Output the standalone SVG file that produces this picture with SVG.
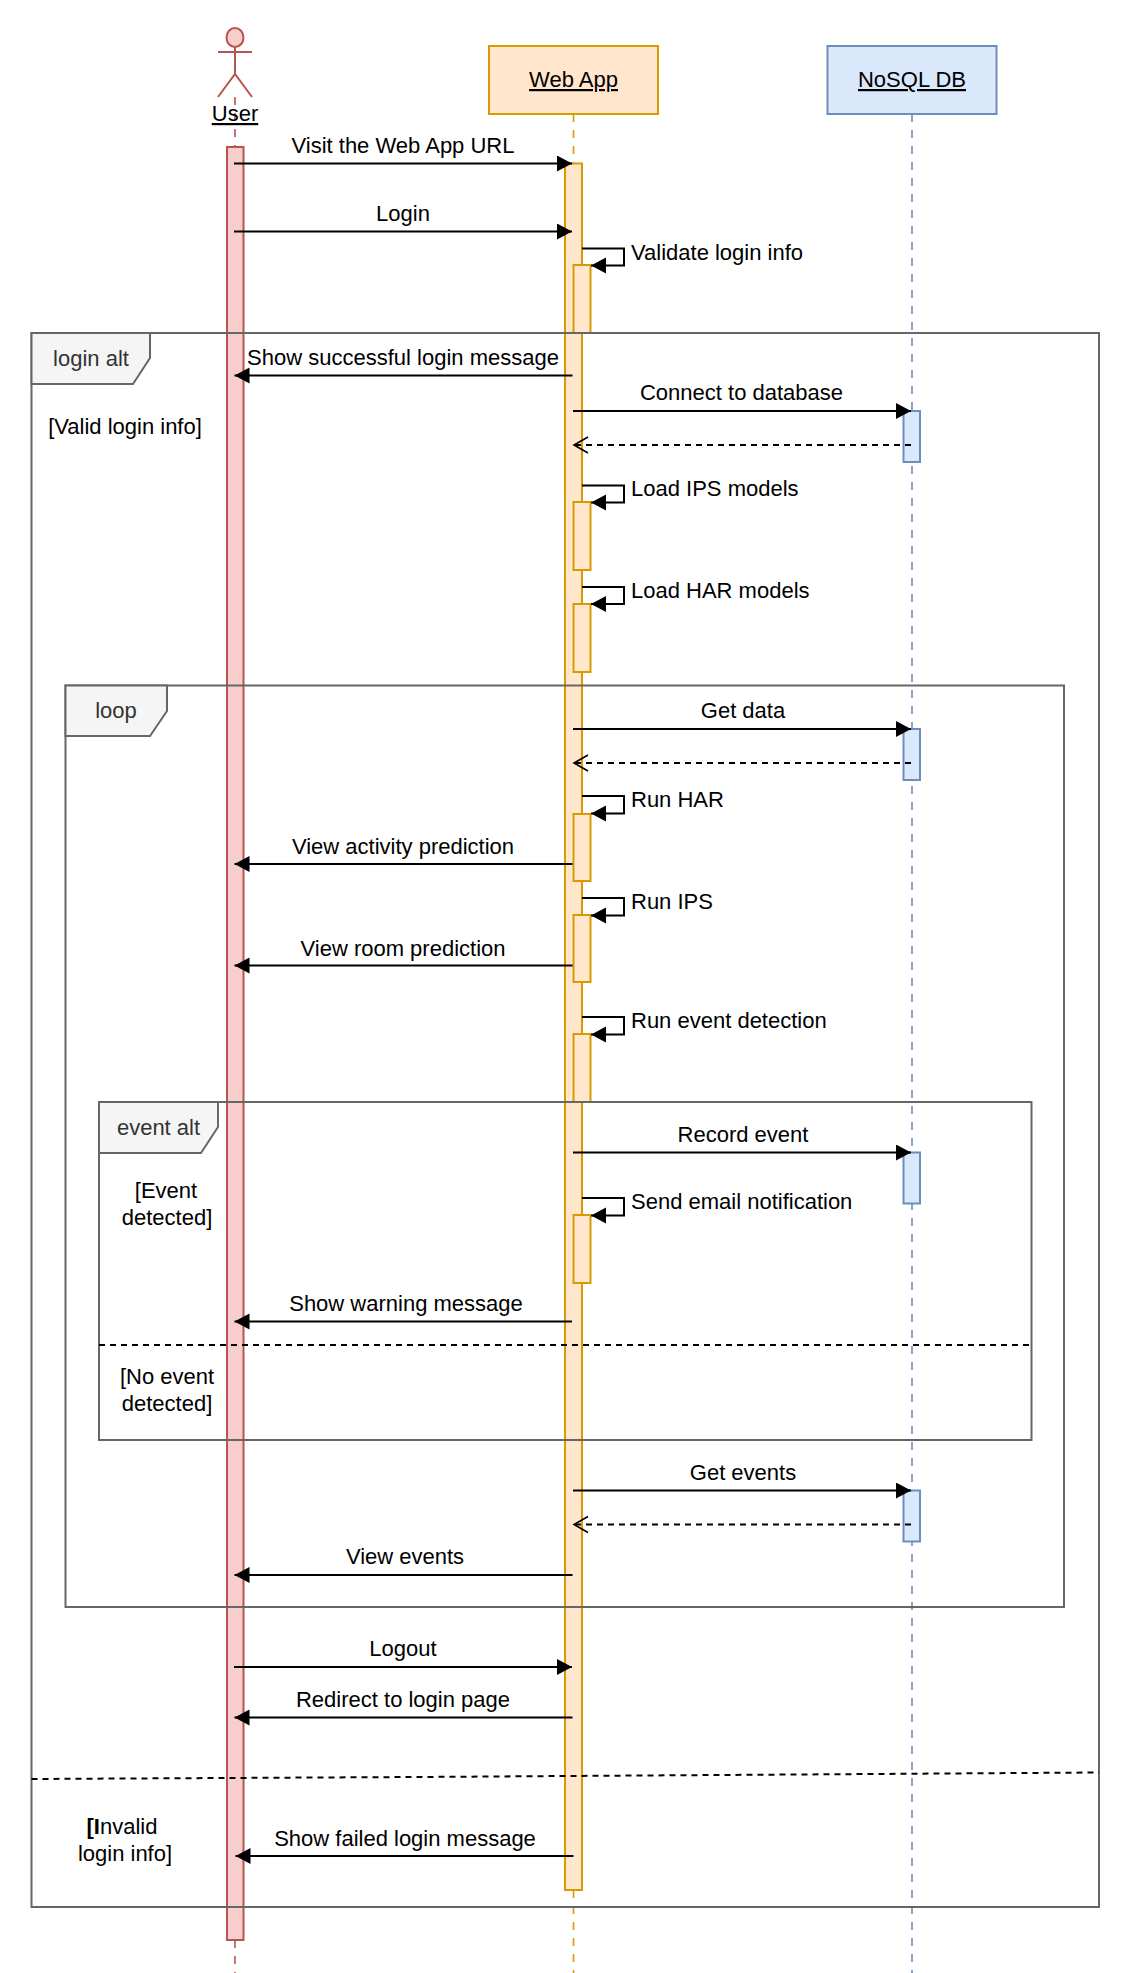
<svg xmlns="http://www.w3.org/2000/svg" width="1122" height="1973" viewBox="0 0 1122 1973">
<style>
text{font-family:"Liberation Sans",Arial,sans-serif;font-size:22px;fill:#000}
.c{text-anchor:middle}
.u{text-decoration:underline}
.ll{fill:none;stroke-width:1.6;stroke-dasharray:8 8}
.ur{fill:#f8cecc;stroke:#b85450;stroke-width:2}
.or{fill:#ffe6cc;stroke:#d79b00;stroke-width:2}
.bl{fill:#dae8fc;stroke:#6c8ebf;stroke-width:2}
.fr{fill:none;stroke:#666;stroke-width:2}
.tab{fill:#f5f5f5;stroke:#666;stroke-width:2}
.tt{fill:#333}
.m{fill:none;stroke:#000;stroke-width:2}
.a{marker-end:url(#b)}
.d{stroke-dasharray:6 5;marker-end:url(#o)}
.sep{fill:none;stroke:#000;stroke-width:2;stroke-dasharray:6 5}
</style>
<defs>
<marker id="b" markerUnits="userSpaceOnUse" markerWidth="16" markerHeight="18" refX="15" refY="8" orient="auto"><path d="M0 0L15 8L0 16Z" fill="#000"/></marker>
<marker id="o" markerUnits="userSpaceOnUse" markerWidth="18" markerHeight="20" refX="15" refY="9" orient="auto"><path d="M1 1L15 9L1 17" fill="none" stroke="#000" stroke-width="1.6"/></marker>
</defs>
<rect width="1122" height="1973" fill="#fff"/>
<g id="user">
<ellipse class="ur" cx="235" cy="37.500" rx="8.500" ry="9.500"/>
<path d="M235 47V74M218 52H252M218 97L235 74L252 97" fill="none" stroke="#b85450" stroke-width="2"/>
<path class="ll" stroke="#b85450" d="M235 97V147M235 1940V1973"/>
<text class="c u" x="235" y="121">User</text>
<rect class="ur" x="227" y="147" width="16.500" height="1793"/>
</g>
<g id="webapp">
<rect class="or" x="489" y="46" width="169" height="68"/>
<text class="c u" x="573.500" y="87">Web App</text>
<path class="ll" stroke="#d79b00" d="M573.500 114V163M573.500 1890V1973"/>
<rect class="or" x="565" y="163.500" width="17" height="1726.500"/>
<rect class="or" x="573.500" y="265" width="17" height="68"/>
<rect class="or" x="573.500" y="502" width="17" height="68"/>
<rect class="or" x="573.500" y="604" width="17" height="68"/>
<rect class="or" x="573.500" y="814" width="17" height="67"/>
<rect class="or" x="573.500" y="915" width="17" height="67"/>
<rect class="or" x="573.500" y="1034" width="17" height="68"/>
<rect class="or" x="573.500" y="1215" width="17" height="68"/>
</g>
<g id="nosql">
<rect class="bl" x="827.500" y="46" width="169" height="68"/>
<text class="c u" x="912" y="87">NoSQL DB</text>
<path class="ll" stroke="#6c8ebf" d="M912 114V1973"/>
<rect class="bl" x="903.500" y="411" width="16.500" height="51"/>
<rect class="bl" x="903.500" y="729" width="16.500" height="51"/>
<rect class="bl" x="903.500" y="1152.500" width="16.500" height="51"/>
<rect class="bl" x="903.500" y="1490.500" width="16.500" height="51"/>
</g>
<g id="login-alt">
<rect class="fr" x="31.500" y="333" width="1067.500" height="1574"/>
<path class="tab" d="M31.500 333H150V358L133 384H31.500Z"/>
<text class="c tt" x="91" y="366">login alt</text>
<text class="c" x="125" y="434">[Valid login info]</text>
<path class="sep" d="M31.500 1779L415 1777L1099 1772.500"/>
<text class="c" x="122" y="1834"><tspan font-weight="bold">[I</tspan>nvalid</text>
<text class="c" x="125" y="1861">login info]</text>
</g>
<g id="loop">
<rect class="fr" x="65.500" y="685.500" width="998.500" height="921.500"/>
<path class="tab" d="M65.500 685.500H167V711L150 736H65.500Z"/>
<text class="c tt" x="116" y="718">loop</text>
</g>
<g id="event-alt">
<rect class="fr" x="99" y="1102" width="932.500" height="338"/>
<path class="tab" d="M99 1102H218V1127L201 1153H99Z"/>
<text class="c tt" x="158.500" y="1135">event alt</text>
<text class="c" x="166" y="1198">[Event</text>
<text class="c" x="167" y="1225">detected]</text>
<path class="sep" d="M99 1345H1031.500"/>
<text class="c" x="167" y="1384">[No event</text>
<text class="c" x="167" y="1411">detected]</text>
</g>
<g id="connectors">
<path class="m a" d="M234 163.500H572"/>
<text class="c" x="403" y="153">Visit the Web App URL</text>
<path class="m a" d="M234 231.500H572"/>
<text class="c" x="403" y="221">Login</text>
<path class="m a" d="M582 248.500H624V265.500H591"/>
<text x="631" y="260">Validate login info</text>
<path class="m a" d="M572.500 375.500H234.500"/>
<text class="c" x="403" y="365">Show successful login message</text>
<path class="m a" d="M573 411H911"/>
<text class="c" x="741.500" y="400">Connect to database</text>
<path class="m d" d="M911 445H574"/>
<path class="m a" d="M582 485.500H624V502.500H591"/>
<text x="631" y="496">Load IPS models</text>
<path class="m a" d="M582 587H624V604H591"/>
<text x="631" y="598">Load HAR models</text>
<path class="m a" d="M573 729H911"/>
<text class="c" x="743" y="718">Get data</text>
<path class="m d" d="M911 763H574"/>
<path class="m a" d="M582 796H624V813.500H591"/>
<text x="631" y="807">Run HAR</text>
<path class="m a" d="M572.500 864H234.500"/>
<text class="c" x="403" y="854">View activity prediction</text>
<path class="m a" d="M582 898H624V915.500H591"/>
<text x="631" y="909">Run IPS</text>
<path class="m a" d="M572.500 965.500H234.500"/>
<text class="c" x="403" y="956">View room prediction</text>
<path class="m a" d="M582 1017H624V1034.500H591"/>
<text x="631" y="1028">Run event detection</text>
<path class="m a" d="M573 1152.500H911"/>
<text class="c" x="743" y="1142">Record event</text>
<path class="m a" d="M582 1198H624V1215.500H591"/>
<text x="631" y="1209">Send email notification</text>
<path class="m a" d="M572 1321.500H234.500"/>
<text class="c" x="406" y="1311">Show warning message</text>
<path class="m a" d="M573 1490.500H911"/>
<text class="c" x="743" y="1480">Get events</text>
<path class="m d" d="M911 1524.500H574"/>
<path class="m a" d="M572.500 1575H234.500"/>
<text class="c" x="405" y="1564">View events</text>
<path class="m a" d="M234 1667H572"/>
<text class="c" x="403" y="1656">Logout</text>
<path class="m a" d="M572.500 1717.500H234.500"/>
<text class="c" x="403" y="1707">Redirect to login page</text>
<path class="m a" d="M573.500 1856H235.500"/>
<text class="c" x="405" y="1846">Show failed login message</text>
</g>
</svg>
